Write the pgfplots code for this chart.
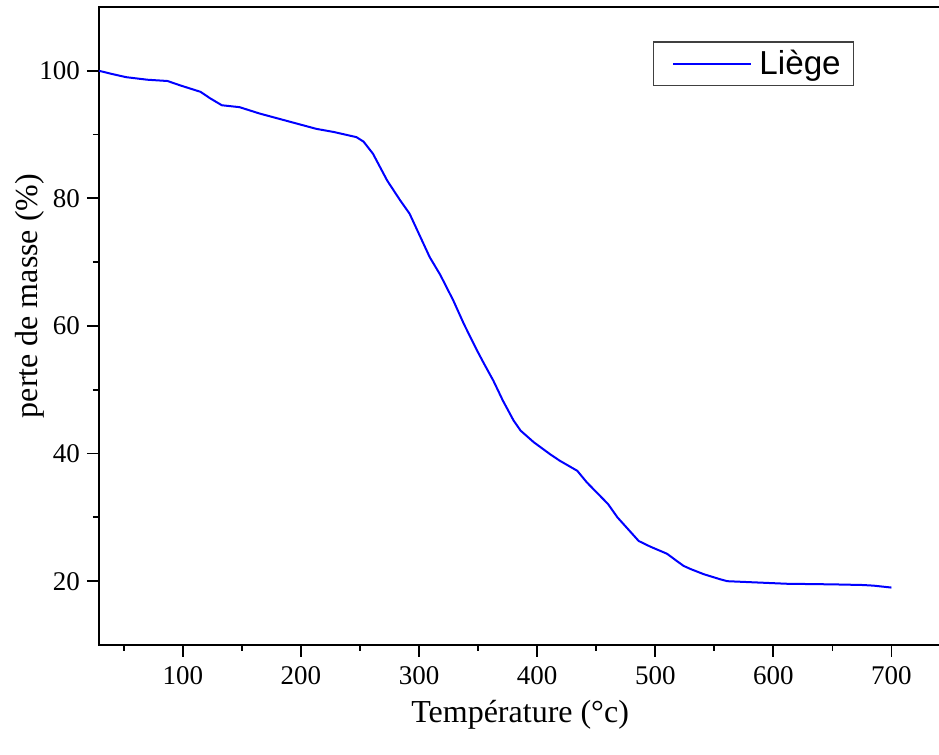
\documentclass[border=0pt]{standalone}
\usepackage{pgfplots}
\pgfplotsset{compat=1.18}
\usepackage{fontspec}
\setmainfont{Liberation Serif}
\newfontfamily\arialfont{Liberation Sans}
\begin{document}
\begin{tikzpicture}
\begin{axis}[
  at={(49.5pt,55pt)}, anchor=south west,
  scale only axis,
  width=422.8pt, height=319pt,
  xmin=29, xmax=745, ymin=10, ymax=110,
  xtick={100,200,...,700},
  ytick={20,40,...,100},
  minor xtick={50,150,...,650},
  minor ytick={30,50,70,90},
  xtick pos=bottom, ytick pos=left,
  tick align=outside,
  major tick length=6pt, minor tick length=3pt,
  every tick/.style={black, line width=0.9pt},
  axis line style={black, line width=1pt},
  /pgf/number format/assume math mode=true,
  tick label style={font=\fontsize{13.5}{16}\selectfont},
  xticklabel style={yshift=-1pt},
  xlabel={Température (°c)},
  ylabel={perte de masse (\%)},
  label style={font=\fontsize{16}{19}\selectfont},
  xlabel style={at={(axis description cs:0.498,0)}, anchor=center, yshift=-35pt},
  ylabel style={at={(axis description cs:0,0.547)}, anchor=center, yshift=34.5pt},
  legend style={at={(axis description cs:0.655,0.946)}, anchor=north west,
    draw=black!75, line width=0.6pt, font=\arialfont\fontsize{16.6}{18}\selectfont,
    inner xsep=3pt, inner ysep=2pt},
  legend image code/.code={\path[draw=none] (0pt,0pt) (48pt,0pt);\draw[#1] (7pt,0pt) -- (46pt,0pt);},
  legend cell align=left,
]
\addplot[blue, line width=1pt] coordinates {
(29,100) (40,99.5) (52,99.0) (70,98.6) (87,98.4) (98,97.7) (115,96.7) (123,95.7)
(133,94.6) (148,94.3) (165,93.3) (197,91.7) (213,90.9) (228,90.4) (247,89.6)
(253,88.9) (261,87.0) (273,82.8) (284,79.7) (292,77.6) (309,70.8) (318,68.0)
(329,64.0) (338,60.3) (349,56.2) (355,54.1) (363,51.4) (371,48.3) (380,45.2)
(386,43.6) (397,41.8) (411,39.9) (419,38.9) (434,37.3) (442,35.5) (460,32.1)
(468,30.0) (486,26.3) (496,25.4) (510,24.3) (518,23.2) (524,22.4) (530,21.9)
(541,21.1) (555,20.3) (561,20.0) (586,19.8) (611,19.6) (651,19.5) (676,19.4)
(685,19.3) (700,19.0)
};
\addlegendentry{Liège\hspace*{1.5pt}}
\end{axis}
\pgfresetboundingbox
\path[use as bounding box] (0,0) rectangle (469.5pt,377.5pt);
\end{tikzpicture}
\end{document}
